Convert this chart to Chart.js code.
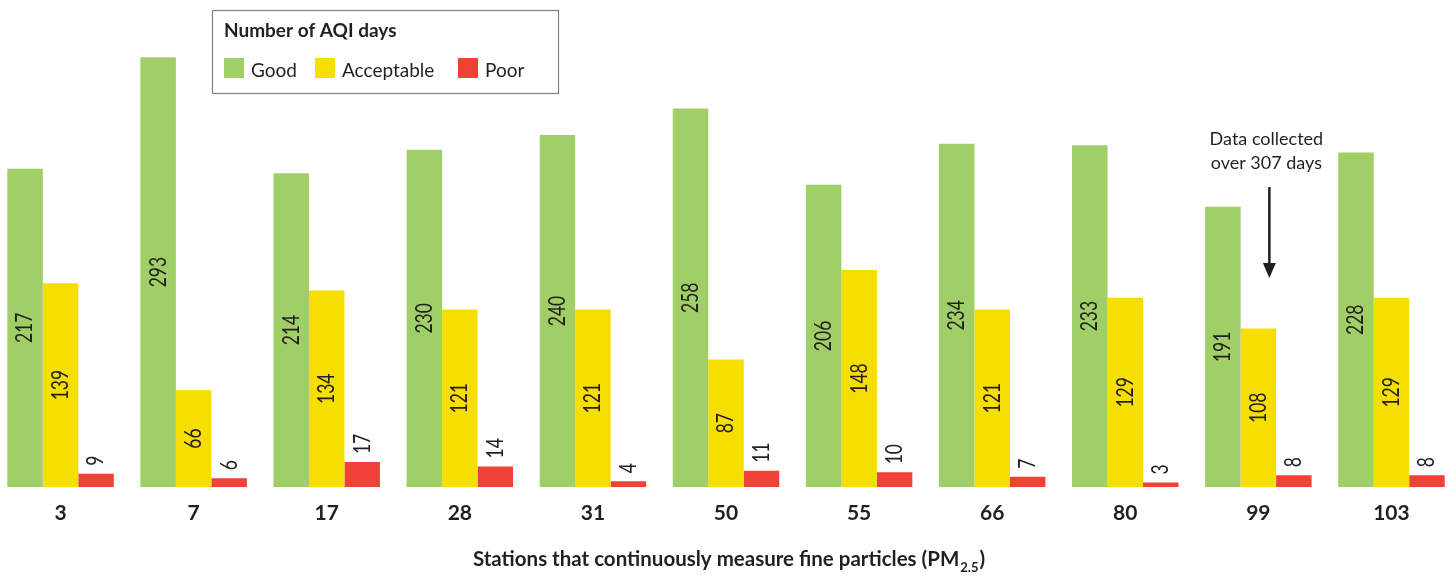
<!DOCTYPE html>
<html>
<head>
<meta charset="utf-8">
<script src="https://cdn.jsdelivr.net/npm/chart.js@4.4.0/dist/chart.umd.min.js"></script>
<style>
  html, body { margin: 0; padding: 0; background: #fff; overflow: hidden; }
  #wrap { position: absolute; left: -6px; top: 0; width: 1464px; height: 579px; }
</style>
</head>
<body>
<div id="wrap"><canvas id="aqi-chart"></canvas></div>
<script>
// Stations and AQI day counts
const stations = ['3', '7', '17', '28', '31', '50', '55', '66', '80', '99', '103'];
const goodDays = [217, 293, 214, 230, 240, 258, 206, 234, 233, 191, 228];
const acceptableDays = [139, 66, 134, 121, 121, 87, 148, 121, 129, 108, 129];
const poorDays = [9, 6, 17, 14, 4, 11, 10, 7, 3, 8, 8];
const seriesNames = ['Good', 'Acceptable', 'Poor'];

const colors = ['#a1cf67', '#f6de00', '#ef4136'];
const ink = '#231f20';
const FONT = 'Lato, "Open Sans", sans-serif';
const SHIFT = 6; // canvas sits 6px left of the page

// values on the bars (condensed look: squeeze along the text direction)
const barLabels = {
    id: 'barLabels',
    afterDatasetsDraw(chart) {
        const ctx = chart.ctx;
        ctx.save();
        ctx.fillStyle = ink;
        ctx.font = '23px ' + FONT;
        ctx.textBaseline = 'middle';
        chart.data.datasets.forEach((ds, i) => {
            chart.getDatasetMeta(i).data.forEach((bar, j) => {
                const inside = i < 2;
                ctx.save();
                ctx.translate(bar.x, inside ? (bar.y + bar.base) / 2 : bar.y - 8);
                ctx.rotate(-Math.PI / 2);
                ctx.scale(0.76, 1);
                ctx.textAlign = inside ? 'center' : 'left';
                ctx.fillText(ds.data[j], 0, 0);
                ctx.restore();
            });
        });
        ctx.restore();
    }
};

// legend box, note with arrow, axis title with subscript
const extras = {
    id: 'extras',
    afterDraw(chart) {
        const ctx = chart.ctx;
        ctx.save();

        // legend
        ctx.strokeStyle = '#808080';
        ctx.lineWidth = 1.2;
        ctx.strokeRect(212.5 + SHIFT, 10.5, 346, 83);
        ctx.fillStyle = ink;
        ctx.textAlign = 'left';
        ctx.textBaseline = 'alphabetic';
        ctx.font = 'bold 19px ' + FONT;
        ctx.fillText('Number of AQI days', 224 + SHIFT, 37);
        const itemX = [224, 315, 458];
        ctx.font = '19px ' + FONT;
        seriesNames.forEach((name, i) => {
            ctx.fillStyle = colors[i];
            ctx.fillRect(itemX[i] + SHIFT, 58, 20, 20);
            ctx.fillStyle = ink;
            ctx.fillText(name, itemX[i] + 27 + SHIFT, 77);
        });

        // note for station 99
        const x = chart.scales.x.getPixelForValue(9) + 11;
        ctx.font = '18px ' + FONT;
        ctx.textAlign = 'center';
        ctx.fillText('Data collected', x - 3, 145);
        ctx.fillText('over 307 days', x - 3, 169);
        ctx.strokeStyle = ink;
        ctx.lineWidth = 2.5;
        ctx.beginPath();
        ctx.moveTo(x, 187);
        ctx.lineTo(x, 266);
        ctx.stroke();
        ctx.beginPath();
        ctx.moveTo(x - 6.5, 263);
        ctx.lineTo(x + 6.5, 263);
        ctx.lineTo(x, 278);
        ctx.closePath();
        ctx.fill();

        // x axis title
        const main = 'Stations that continuously measure fine particles (PM';
        ctx.font = 'bold 20.5px ' + FONT;
        const w1 = ctx.measureText(main).width;
        const w3 = ctx.measureText(')').width;
        ctx.font = 'bold 13px ' + FONT;
        const w2 = ctx.measureText('2.5').width;
        let tx = 728 + SHIFT - (w1 + w2 + w3) / 2;
        ctx.textAlign = 'left';
        ctx.font = 'bold 20.5px ' + FONT;
        ctx.fillText(main, tx, 566);
        ctx.font = 'bold 13px ' + FONT;
        ctx.fillText('2.5', tx + w1 + 1, 572);
        ctx.font = 'bold 20.5px ' + FONT;
        ctx.fillText(')', tx + w1 + w2 + 2, 566);

        ctx.restore();
    }
};

new Chart(document.getElementById('aqi-chart'), {
    type: 'bar',
    data: {
        labels: stations,
        datasets: [
            { label: seriesNames[0], data: goodDays, backgroundColor: colors[0] },
            { label: seriesNames[1], data: acceptableDays, backgroundColor: colors[1] },
            { label: seriesNames[2], data: poorDays, backgroundColor: colors[2] }
        ]
    },
    options: {
        responsive: true,
        maintainAspectRatio: false,
        animation: false,
        layout: { padding: { top: 47, left: 0, right: 0, bottom: 0 } },
        datasets: {
            bar: { categoryPercentage: 0.8, barPercentage: 1.0, borderWidth: 0 }
        },
        plugins: {
            legend: { display: false },
            tooltip: { enabled: false }
        },
        scales: {
            x: {
                grid: { display: false, drawTicks: false },
                border: { display: false },
                ticks: {
                    color: ink,
                    font: { family: FONT, size: 21, weight: 'bold' },
                    padding: 14,
                    maxRotation: 0,
                    autoSkip: false
                },
                afterFit(scale) { scale.height = 92; }
            },
            y: {
                display: false,
                min: 0,
                max: 300
            }
        }
    },
    plugins: [barLabels, extras]
});
</script>
</body>
</html>
